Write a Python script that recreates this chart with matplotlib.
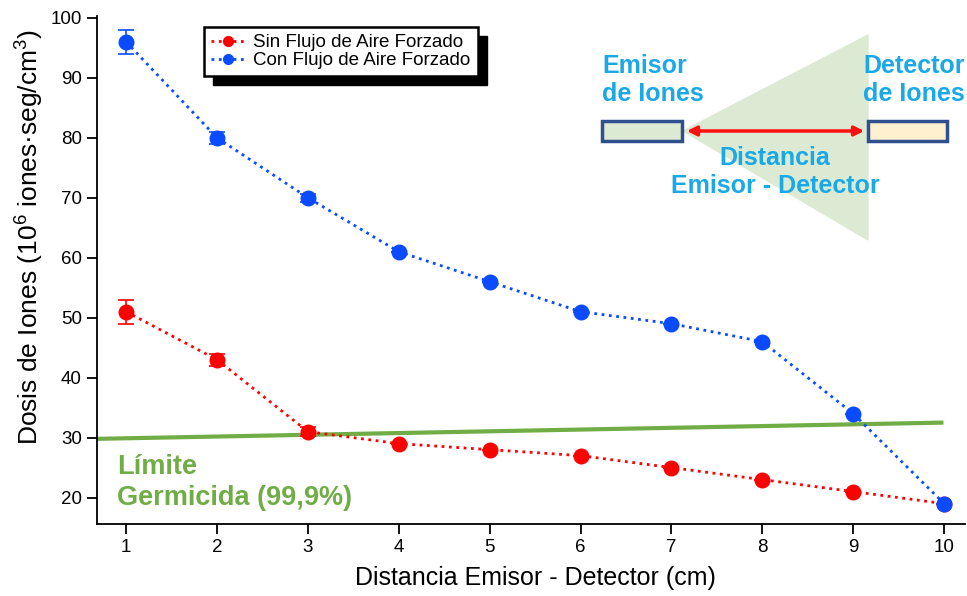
import matplotlib
matplotlib.use("Agg")
import matplotlib.pyplot as plt
from matplotlib.patches import Rectangle, Polygon, FancyArrowPatch
from matplotlib.lines import Line2D
from matplotlib.transforms import IdentityTransform

plt.rcParams['font.family'] = ['Liberation Sans', 'DejaVu Sans']
plt.rcParams['mathtext.fontset'] = 'custom'
plt.rcParams['mathtext.rm'] = 'Liberation Sans'

# data
distancia = [1, 2, 3, 4, 5, 6, 7, 8, 9, 10]
sin_flujo = [51, 43, 31, 29, 28, 27, 25, 23, 21, 19]
sin_err = [2, 1, 0.7, 0, 0, 0, 0, 0, 0, 0]
con_flujo = [96, 80, 70, 61, 56, 51, 49, 46, 34, 19]
con_err = [2, 1, 0.7, 0, 0, 0, 0, 0, 0, 0]
limite_x = [0.68, 9.97]
limite_y = [29.8, 32.5]
etiquetas = ['Sin Flujo de Aire Forzado', 'Con Flujo de Aire Forzado']

W, H = 967, 596
fig = plt.figure(figsize=(W / 100, H / 100), dpi=100)
ax = fig.add_axes([97 / W, 1 - 524 / H, (965 - 97) / W, (524 - 16) / H])

rojo = '#ff0000'
azul = '#0a4bff'
verde = '#70ad47'

ax.plot(limite_x, limite_y, color=verde, lw=3, zorder=1)
ax.errorbar(distancia, sin_flujo, yerr=sin_err, color=rojo, ls=':', lw=2,
            marker='o', ms=10.5, capsize=6, elinewidth=1.2, capthick=1.2, zorder=3)
ax.errorbar(distancia, con_flujo, yerr=con_err, color=azul, ls=':', lw=2,
            marker='o', ms=10.5, capsize=6, elinewidth=1.2, capthick=1.2, zorder=3)

ax.set_xlim(0.68, 10.23)
ax.set_ylim(15.6, 100.3)
ax.set_xticks(distancia)
ax.set_yticks(range(20, 101, 10))
ax.spines['top'].set_visible(False)
ax.spines['right'].set_visible(False)
ax.spines['left'].set_linewidth(1.3)
ax.spines['bottom'].set_linewidth(1.3)
ax.tick_params(direction='out', length=7, width=1.3, labelsize=13.5, pad=4)
ax.set_xlabel('Distancia Emisor - Detector (cm)', fontsize=18)
ax.set_ylabel('Dosis de Iones (10$^6$ iones·seg/cm$^3$)', fontsize=19)
ax.xaxis.set_label_coords(0.505, -0.083)
ax.yaxis.set_label_coords(-0.060, 0.564)

ax.text(0.023, 0.081, 'Límite\nGermicida (99,9%)', transform=ax.transAxes,
        color=verde, fontsize=19.5, fontweight='bold', va='center', linespacing=1.25)

handles = [Line2D([], [], color=rojo, ls=':', lw=2, marker='o', ms=7),
           Line2D([], [], color=azul, ls=':', lw=2, marker='o', ms=7)]
leg = ax.legend(handles, etiquetas, loc='upper left', bbox_to_anchor=(204 / W, 1 - 27 / H),
                bbox_transform=fig.transFigure, fontsize=13.5, frameon=True,
                fancybox=False, edgecolor='black', framealpha=1,
                borderpad=0.38, handlelength=1.8, handletextpad=0.45,
                labelspacing=0.05, borderaxespad=0)
leg.get_frame().set_linewidth(1.8)
leg.set_zorder(6)

fig.canvas.draw()
bb = leg.get_window_extent()
ax.add_patch(Rectangle((bb.x0 + 9, bb.y0 - 9), bb.width, bb.height,
                       transform=IdentityTransform(), color='black',
                       clip_on=False, zorder=5.9))


def px(x, y):
    return (x / W, 1 - y / H)


tf = fig.transFigure
fig.patches.append(Polygon([px(683, 131), px(868, 35), px(868, 240)],
                           closed=True, transform=tf, color='#dcead3', zorder=0))
fig.patches.append(Rectangle(px(602, 141), 80 / W, 20 / H, transform=tf,
                             facecolor='#dcead3', edgecolor='#2f4f8f', lw=2.5))
fig.patches.append(Rectangle(px(868, 141), 79 / W, 20 / H, transform=tf,
                             facecolor='#fff0cf', edgecolor='#2f4f8f', lw=2.5))
fig.patches.append(FancyArrowPatch(px(684, 131), px(867, 131), transform=tf,
                                   arrowstyle='<|-|>', mutation_scale=14,
                                   color='#ff1010', lw=2.5))
cian = '#1aa8e6'
fig.text(*px(602, 80), 'Emisor\nde Iones', color=cian, fontsize=18,
         fontweight='bold', ha='left', va='center', linespacing=1.2)
fig.text(*px(965, 80), 'Detector\nde Iones', color=cian, fontsize=18,
         fontweight='bold', ha='right', va='center', linespacing=1.2)
fig.text(*px(775, 172), 'Distancia\nEmisor - Detector', color=cian, fontsize=18,
         fontweight='bold', ha='center', va='center', linespacing=1.2)

fig.savefig('out.png', dpi=100)
